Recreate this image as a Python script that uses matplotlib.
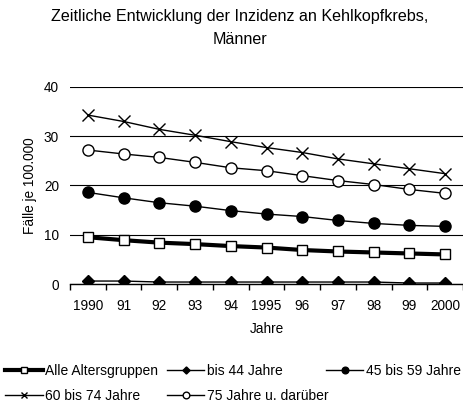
import matplotlib
matplotlib.use("Agg")
import matplotlib.pyplot as plt

plt.rcParams['font.family'] = ['Liberation Sans', 'DejaVu Sans']

years = ["1990", "91", "92", "93", "94", "1995", "96", "97", "98", "99", "2000"]
alle = [9.5, 8.9, 8.4, 8.1, 7.7, 7.4, 6.9, 6.6, 6.4, 6.2, 6.0]
bis44 = [0.6, 0.6, 0.4, 0.4, 0.4, 0.4, 0.4, 0.4, 0.4, 0.2, 0.2]
a45_59 = [18.6, 17.5, 16.5, 15.8, 14.9, 14.2, 13.7, 12.9, 12.3, 11.9, 11.7]
a60_74 = [34.3, 33.0, 31.4, 30.2, 28.9, 27.7, 26.7, 25.4, 24.4, 23.4, 22.4]
a75 = [27.2, 26.4, 25.7, 24.7, 23.6, 23.0, 22.0, 21.0, 20.2, 19.2, 18.4]
labels = ["Alle Altersgruppen", "bis 44 Jahre", "45 bis 59 Jahre", "60 bis 74 Jahre", "75 Jahre u. darüber"]
yticks = [0, 10, 20, 30, 40]

fig = plt.figure(figsize=(4.64, 4.03), dpi=100)
ax = fig.add_axes([70/464, 1-284/403, 393/464, 197/403])
x = list(range(len(years)))

l1, = ax.plot(x, alle, color='black', lw=3, marker='s', ms=7, mfc='white', mec='black', mew=1, zorder=5)
l2, = ax.plot(x, bis44, color='black', lw=1, marker='D', ms=6, mfc='black', mec='black', zorder=5)
l3, = ax.plot(x, a45_59, color='black', lw=1, marker='o', ms=8, mfc='black', mec='black', zorder=5)
l4, = ax.plot(x, a60_74, color='black', lw=1, marker='x', ms=8, mew=1, zorder=5)
l5, = ax.plot(x, a75, color='black', lw=1, marker='o', ms=8, mfc='white', mec='black', mew=1, zorder=5)

ax.set_xlim(-0.5, len(years) - 0.5)
ax.set_ylim(0, 40)
ax.set_yticks(yticks)
ax.set_yticklabels([str(v) for v in yticks], fontsize=9.8)
ax.yaxis.grid(True, color='black', lw=0.8)
ax.set_axisbelow(True)
for s in ['top', 'right', 'left']:
    ax.spines[s].set_visible(False)
ax.spines['bottom'].set_linewidth(1)
ax.tick_params(axis='y', length=0, pad=8)
ax.set_xticks(x)
ax.set_xticklabels(years, fontsize=9.8)
ax.set_xticks([i - 0.5 for i in range(len(years) + 1)], minor=True)
ax.tick_params(axis='x', which='major', length=0, pad=11)
ax.tick_params(axis='x', which='minor', length=4, direction='out', width=1)
ax.set_xlabel("Jahre", fontsize=9.8, labelpad=6)
ax.set_ylabel("Fälle je 100.000", fontsize=9.8, labelpad=5)

fig.text(240/464, 1-17/403, "Zeitliche Entwicklung der Inzidenz an Kehlkopfkrebs,",
         ha='center', va='center', fontsize=11.6)
fig.text(240/464, 1-40/403, "Männer", ha='center', va='center', fontsize=11.6)

handles = [l1, l2, l3, l4, l5]
pos = [(5, 371), (167, 371), (326, 371), (5, 396), (167, 396)]
for h, lab, (px, py) in zip(handles, labels, pos):
    fig.legend([h], [lab], loc='center left', bbox_to_anchor=(px/464, 1-py/403),
               frameon=False, fontsize=10, handlelength=2.7, handletextpad=0.15,
               markerscale=0.6, borderpad=0, borderaxespad=0)

fig.savefig("out.png", dpi=100)
